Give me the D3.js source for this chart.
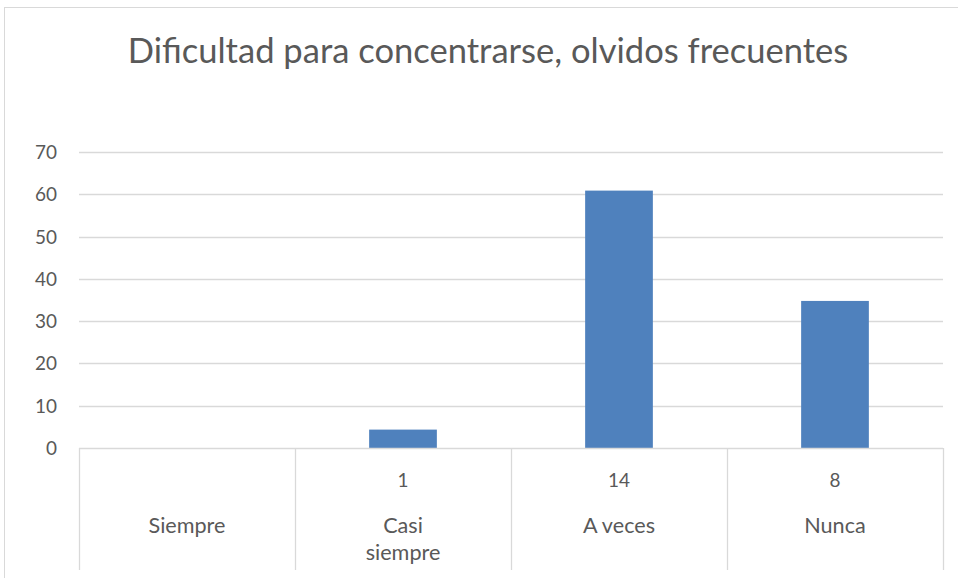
<!DOCTYPE html>
<html>
<head>
<meta charset="utf-8">
<script src="https://cdn.jsdelivr.net/npm/d3@7"></script>
<style>
  html, body { margin: 0; padding: 0; background: #fff; }
  svg { display: block; }
  text { font-family: Lato, "Open Sans", sans-serif; fill: #595959; font-weight: 400; }
</style>
</head>
<body>
<svg id="chart" width="958" height="578"></svg>
<script>
const title = "Dificultad para concentrarse, olvidos frecuentes";
const categories = ["Siempre", "Casi siempre", "A veces", "Nunca"];
const categoryLines = [["Siempre"], ["Casi", "siempre"], ["A veces"], ["Nunca"]];
const counts = ["", "1", "14", "8"];
const values = [0, 4.35, 60.87, 34.78];
const yTicks = [0, 10, 20, 30, 40, 50, 60, 70];

const svg = d3.select("#chart");
const margin = { left: 79 };
const plotRight = 943, plotTop = 152, plotBottom = 448;

// measure helper to fit font size to target width
function fitSize(str, target, base) {
  const t = svg.append("text").style("font-size", base + "px").text(str);
  const w = t.node().getComputedTextLength();
  t.remove();
  return base * target / w;
}
const labelSize = fitSize("Siempre", 77, 18);
const tickSize = fitSize("70", 22, 18);

// chart border
svg.append("rect")
  .attr("x", 4.5).attr("y", 7.5)
  .attr("width", 1000).attr("height", 700)
  .attr("fill", "none").attr("stroke", "#d9d9d9").attr("stroke-width", 1);

const x = d3.scaleBand().domain(categories).range([margin.left, plotRight]).paddingInner(0).paddingOuter(0);
const y = d3.scaleLinear().domain([0, 70]).range([plotBottom, plotTop]);

// gridlines
svg.append("g").selectAll("line").data(yTicks.filter(d => d > 0)).join("line")
  .attr("x1", margin.left).attr("x2", plotRight)
  .attr("y1", d => Math.round(y(d)) + 0.5).attr("y2", d => Math.round(y(d)) + 0.5)
  .attr("stroke", "#d9d9d9").attr("stroke-width", 1.3);

// y tick labels
svg.append("g").selectAll("text").data(yTicks).join("text")
  .attr("x", 57).attr("y", d => y(d) + 7)
  .attr("text-anchor", "end")
  .style("font-size", tickSize + "px")
  .text(d => d);

// bars
const barW = x.bandwidth() / 3.19;
svg.append("g").selectAll("rect").data(values).join("rect")
  .attr("x", (d, i) => x(categories[i]) + (x.bandwidth() - barW) / 2)
  .attr("y", d => y(d))
  .attr("width", barW)
  .attr("height", d => y(0) - y(d))
  .attr("fill", "#4f81bd");

// category axis line
svg.append("line")
  .attr("x1", margin.left).attr("x2", plotRight)
  .attr("y1", plotBottom + 0.5).attr("y2", plotBottom + 0.5)
  .attr("stroke", "#d9d9d9").attr("stroke-width", 1.3);

// separators
const seps = categories.map(c => x(c)).concat([plotRight]);
svg.append("g").selectAll("line").data(seps).join("line")
  .attr("x1", d => Math.round(d) + 0.5).attr("x2", d => Math.round(d) + 0.5)
  .attr("y1", plotBottom).attr("y2", 570)
  .attr("stroke", "#d9d9d9").attr("stroke-width", 1.3);

// count row
svg.append("g").selectAll("text").data(counts).join("text")
  .attr("x", (d, i) => x(categories[i]) + x.bandwidth() / 2)
  .attr("y", 487)
  .attr("text-anchor", "middle")
  .style("font-size", tickSize + "px")
  .text(d => d);

// category names
const catG = svg.append("g").selectAll("text").data(categoryLines).join("text")
  .attr("x", (d, i) => x(categories[i]) + x.bandwidth() / 2)
  .attr("y", 533)
  .attr("text-anchor", "middle")
  .style("font-size", labelSize + "px");
catG.each(function(lines, i) {
  const t = d3.select(this);
  lines.forEach((ln, j) => {
    t.append("tspan")
      .attr("x", x(categories[i]) + x.bandwidth() / 2)
      .attr("dy", j === 0 ? 0 : 27)
      .text(ln);
  });
});

// title
svg.append("text")
  .attr("x", 488).attr("y", 63)
  .attr("text-anchor", "middle")
  .style("font-size", fitSize(title, 721, 32) + "px")
  .text(title);
</script>
</body>
</html>
